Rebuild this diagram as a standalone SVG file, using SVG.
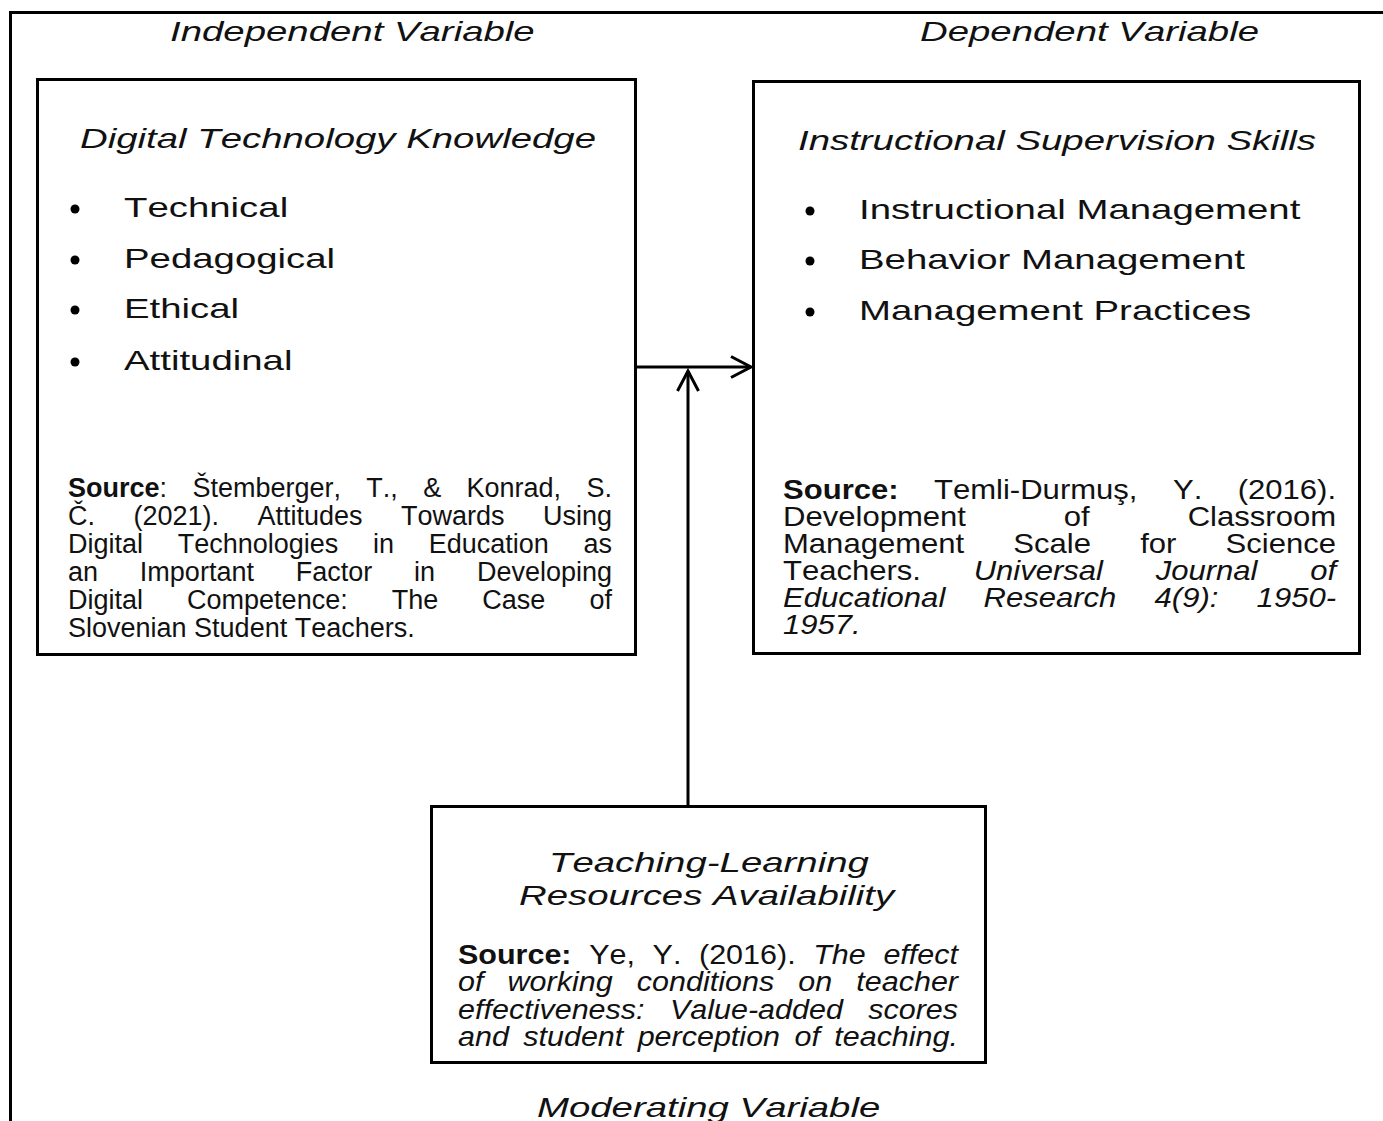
<svg xmlns="http://www.w3.org/2000/svg" width="1383" height="1121" viewBox="0 0 1383 1121">
  <style>
    text { font-family: "Liberation Sans", Arial, sans-serif; fill: #111; font-kerning: none; }
    .lbl { font-size: 28px; font-style: italic; }
    .item { font-size: 28px; }
    .src { font-size: 27px; }
    .b { font-weight: bold; }
    .i { font-style: italic; }
    .box { fill: #fff; stroke: #000; stroke-width: 3; }
    .frame { stroke: #000; stroke-width: 3; fill: none; }
    .conn { stroke: #000; stroke-width: 3; fill: none; }
    .dot { fill: #000; }
  </style>
  <defs>
    <marker id="chev" markerUnits="userSpaceOnUse" viewBox="-24 -14 28 28" markerWidth="28" markerHeight="28" refX="0" refY="0" orient="auto">
      <path d="M-20,-10.5 L0,0 L-20,10.5" fill="none" stroke="#000" stroke-width="3" stroke-linejoin="miter"/>
    </marker>
  </defs>

  <rect width="1383" height="1121" fill="#fff"/>

  <!-- page frame: top and left rules -->
  <path class="frame" d="M1383,12.5 L10.5,12.5 L10.5,1121"/>

  <!-- variable headings (wide-set type) -->
  <g transform="translate(170 0) scale(1.37 1)"><text class="lbl" x="0" y="41">Independent Variable</text></g>
  <g transform="translate(920 0) scale(1.37 1)"><text class="lbl" x="0" y="41">Dependent Variable</text></g>
  <g transform="translate(537 0) scale(1.37 1)"><text class="lbl" x="0" y="1117">Moderating Variable</text></g>

  <!-- independent variable -->
  <g id="node-digital-technology-knowledge">
    <rect class="box" x="37.5" y="79.5" width="598" height="575"/>
    <g transform="translate(80 0) scale(1.37 1)"><text class="lbl" x="0" y="148">Digital Technology Knowledge</text></g>
    <circle class="dot" cx="75" cy="209" r="4.5"/>
    <circle class="dot" cx="75" cy="260" r="4.5"/>
    <circle class="dot" cx="75" cy="310" r="4.5"/>
    <circle class="dot" cx="75" cy="362" r="4.5"/>
    <g transform="translate(124 0) scale(1.37 1)">
      <text class="item" x="0" y="217">Technical</text>
      <text class="item" x="0" y="268">Pedagogical</text>
      <text class="item" x="0" y="318">Ethical</text>
      <text class="item" x="0" y="370">Attitudinal</text>
    </g>
    <text class="src" x="68" y="497" word-spacing="17.9" textLength="544" lengthAdjust="spacing"><tspan class="b">Source</tspan>: Štemberger, T., &amp; Konrad, S.</text>
    <text class="src" x="68" y="525" word-spacing="31" textLength="544" lengthAdjust="spacing">Č. (2021). Attitudes Towards Using</text>
    <text class="src" x="68" y="553" word-spacing="27.2" textLength="544" lengthAdjust="spacing">Digital Technologies in Education as</text>
    <text class="src" x="68" y="581" word-spacing="34.3" textLength="544" lengthAdjust="spacing">an Important Factor in Developing</text>
    <text class="src" x="68" y="609" word-spacing="36.6" textLength="544" lengthAdjust="spacing">Digital Competence: The Case of</text>
    <text class="src" x="68" y="637">Slovenian Student Teachers.</text>
  </g>

  <!-- dependent variable -->
  <g id="node-instructional-supervision-skills">
    <rect class="box" x="753.5" y="81.5" width="606" height="572"/>
    <g transform="translate(798 0) scale(1.37 1)"><text class="lbl" x="0" y="150">Instructional Supervision Skills</text></g>
    <circle class="dot" cx="810" cy="211" r="4.5"/>
    <circle class="dot" cx="810" cy="261" r="4.5"/>
    <circle class="dot" cx="810" cy="312" r="4.5"/>
    <g transform="translate(859 0) scale(1.37 1)">
      <text class="item" x="0" y="219">Instructional Management</text>
      <text class="item" x="0" y="269">Behavior Management</text>
      <text class="item" x="0" y="320">Management Practices</text>
    </g>
    <g transform="translate(783 0) scale(1.15 1)">
      <text class="src" x="0" y="499" word-spacing="23.3" textLength="480.9" lengthAdjust="spacing"><tspan class="b">Source:</tspan> Temli-Durmuş, Y. (2016).</text>
      <text class="src" x="0" y="526" word-spacing="77.6" textLength="480.9" lengthAdjust="spacing">Development of Classroom</text>
      <text class="src" x="0" y="553" word-spacing="35.2" textLength="480.9" lengthAdjust="spacing">Management Scale for Science</text>
      <text class="src" x="0" y="580" word-spacing="38.3" textLength="480.9" lengthAdjust="spacing">Teachers. <tspan class="i">Universal Journal of</tspan></text>
      <text class="src i" x="0" y="607" word-spacing="25.7" textLength="480.9" lengthAdjust="spacing">Educational Research 4(9): 1950-</text>
      <text class="src i" x="0" y="634">1957.</text>
    </g>
  </g>

  <!-- moderating variable -->
  <g id="node-teaching-learning-resources">
    <rect class="box" x="431.5" y="806.5" width="554" height="256"/>
    <g transform="translate(549 0) scale(1.37 1)"><text class="lbl" x="0" y="872">Teaching-Learning</text></g>
    <g transform="translate(519 0) scale(1.37 1)"><text class="lbl" x="0" y="905">Resources Availability</text></g>
    <g transform="translate(458 0) scale(1.13 1)">
      <text class="src" x="0" y="964" word-spacing="8.1" textLength="442.5" lengthAdjust="spacing"><tspan class="b">Source:</tspan> Ye, Y. (2016). <tspan class="i">The effect</tspan></text>
      <text class="src i" x="0" y="991" word-spacing="13.8" textLength="442.5" lengthAdjust="spacing">of working conditions on teacher</text>
      <text class="src i" x="0" y="1019" word-spacing="14.9" textLength="442.5" lengthAdjust="spacing">effectiveness: Value-added scores</text>
      <text class="src i" x="0" y="1046" word-spacing="5.2" textLength="442.5" lengthAdjust="spacing">and student perception of teaching.</text>
    </g>
  </g>

  <!-- connectors -->
  <g id="connectors">
    <line class="conn" x1="636" y1="367" x2="751" y2="367" marker-end="url(#chev)"/>
    <line class="conn" x1="688" y1="806" x2="688" y2="371" marker-end="url(#chev)"/>
  </g>
</svg>
